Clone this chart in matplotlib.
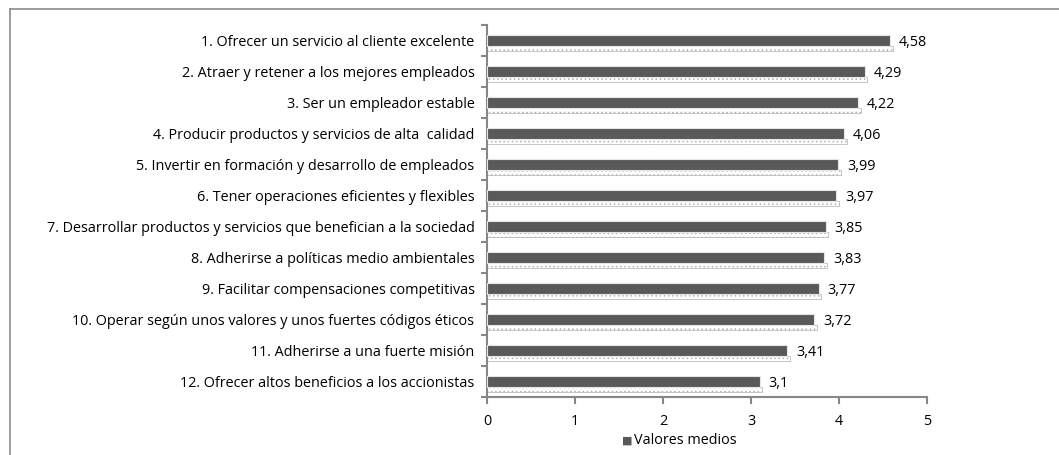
import matplotlib
matplotlib.use('Agg')
import matplotlib.pyplot as plt
import numpy as np

categories = [
    '1. Ofrecer un servicio al cliente excelente',
    '2. Atraer y retener a los mejores empleados',
    '3. Ser un empleador estable',
    '4. Producir productos y servicios de alta  calidad',
    '5. Invertir en formación y desarrollo de empleados',
    '6. Tener operaciones eficientes y flexibles',
    '7. Desarrollar productos y servicios que benefician a la sociedad',
    '8. Adherirse a políticas medio ambientales',
    '9. Facilitar compensaciones competitivas',
    '10. Operar según unos valores y unos fuertes códigos éticos',
    '11. Adherirse a una fuerte misión',
    '12. Ofrecer altos beneficios a los accionistas',
]
values = [4.58, 4.29, 4.22, 4.06, 3.99, 3.97, 3.85, 3.83, 3.77, 3.72, 3.41, 3.1]
value_labels = ['4,58', '4,29', '4,22', '4,06', '3,99', '3,97', '3,85', '3,83',
                '3,77', '3,72', '3,41', '3,1']
x_ticks = [0, 1, 2, 3, 4, 5]
series_name = 'Valores medios'

plt.rcParams['font.family'] = ['Open Sans', 'DejaVu Sans']
plt.rcParams['hatch.linewidth'] = 0.6
bar_color = '#595959'
axis_color = '#868686'
fs = 10.4

fig = plt.figure(figsize=(10.59, 4.55), dpi=100)
ax = fig.add_axes([487 / 1059, 1 - 397 / 455, 440 / 1059, 372 / 455])

y = np.arange(len(categories))
h = 0.33

# dotted shadow under each bar
ax.barh(y + 0.25, [v + 0.03 for v in values], height=0.17, left=0,
        color='white', edgecolor='#b0b0b0', hatch='....', linewidth=0.5, zorder=2)
ax.barh(y, values, height=h, color=bar_color, edgecolor='#e6e6e6',
        linewidth=0.8, zorder=3)

for yi, v, lab in zip(y, values, value_labels):
    ax.text(v + 0.1, yi + 0.05, lab, va='center', ha='left', fontsize=fs,
            color='black', zorder=4)

ax.set_xlim(0, 5)
ax.set_ylim(len(categories) - 0.5, -0.5)
ax.set_xticks(x_ticks)
ax.set_xticklabels([str(t) for t in x_ticks], fontsize=fs)
ax.set_yticks(y)
ax.set_yticklabels(categories, fontsize=fs)
ax.set_yticks(np.arange(len(categories) + 1) - 0.5, minor=True)
ax.tick_params(axis='y', which='major', length=0, pad=9)
ax.tick_params(axis='y', which='minor', length=4, color=axis_color, width=1.5)
ax.tick_params(axis='x', length=5, color=axis_color, width=1.5, pad=7)

for side in ['top', 'right']:
    ax.spines[side].set_visible(False)
for side in ['left', 'bottom']:
    ax.spines[side].set_color(axis_color)
    ax.spines[side].set_linewidth(1.5)

# legend: small grey square + series name
fig.text(627 / 1059, 1 - 441 / 455, '\u25a0', ha='center', va='center',
         fontsize=8, color=bar_color)
fig.text(634 / 1059, 1 - 440 / 455, series_name, ha='left', va='center',
         fontsize=fs, color='black')

# frame lines (top and left only visible in the crop)
fig.add_artist(plt.Line2D([10 / 1059, 1], [1 - 9 / 455, 1 - 9 / 455],
                          transform=fig.transFigure, color='#8c8c8c', linewidth=1.2))
fig.add_artist(plt.Line2D([10 / 1059, 10 / 1059], [0, 1 - 9 / 455],
                          transform=fig.transFigure, color='#8c8c8c', linewidth=1.2))

fig.savefig('out.png', dpi=100)
